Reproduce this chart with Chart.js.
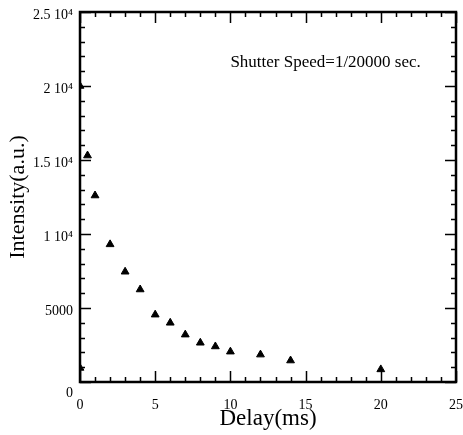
<!DOCTYPE html>
<html>
<head>
<meta charset="utf-8">
<script src="https://cdn.jsdelivr.net/npm/chart.js@4.4.1/dist/chart.umd.min.js"></script>
<style>
  html, body { margin: 0; padding: 0; background: #fff; }
  #c { display: block; }
</style>
</head>
<body>
<canvas id="c" width="463" height="435"></canvas>
<script>
// Data
const delays = [0, 0, 0.5, 1, 2, 3, 4, 5, 6, 7, 8, 9, 10, 12, 14, 20];
const intensities = [950, 20000, 15300, 12600, 9300, 7450, 6250, 4550, 4000, 3200, 2650, 2400, 2050, 1850, 1450, 850];
const yTickValues = [0, 5000, 10000, 15000, 20000, 25000];
const yTickLabels = ['0', '5000', '1 10\u2074', '1.5 10\u2074', '2 10\u2074', '2.5 10\u2074'];
const xTickValues = [0, 5, 10, 15, 20, 25];
const xTickLabels = ['0', '5', '10', '15', '20', '25'];
const annotationText = 'Shutter Speed=1/20000 sec.';

const serif = '"Liberation Serif", "DejaVu Serif", serif';

const framePlugin = {
  id: 'frame',
  afterDraw(chart) {
    const ctx = chart.ctx;
    const a = chart.chartArea;
    const xs = chart.scales.x, ys = chart.scales.y;
    ctx.save();
    ctx.strokeStyle = '#000';
    ctx.lineWidth = 1.5;
    ctx.beginPath();
    xs.ticks.forEach(t => {
      const px = Math.round(xs.getPixelForValue(t.value)) + 0.5;
      const len = (t.value % 5 === 0) ? 11 : 5;
      ctx.moveTo(px, a.bottom); ctx.lineTo(px, a.bottom - len);
      ctx.moveTo(px, a.top); ctx.lineTo(px, a.top + len);
    });
    ys.ticks.forEach(t => {
      const py = Math.round(ys.getPixelForValue(t.value)) + 0.5;
      const len = (t.value % 5000 === 0) ? 11 : 5;
      ctx.moveTo(a.left, py); ctx.lineTo(a.left + len, py);
      ctx.moveTo(a.right, py); ctx.lineTo(a.right - len, py);
    });
    ctx.stroke();
    ctx.lineWidth = 2.5;
    ctx.strokeRect(a.left, a.top, a.right - a.left, a.bottom - a.top);
    // annotation
    ctx.fillStyle = '#000';
    ctx.font = '17px ' + serif;
    ctx.textAlign = 'left';
    ctx.textBaseline = 'middle';
    ctx.fillText(annotationText, xs.getPixelForValue(10.0), ys.getPixelForValue(21600));
    ctx.restore();
  }
};

new Chart(document.getElementById('c'), {
  type: 'scatter',
  data: {
    datasets: [{
      data: delays.map((d, i) => ({ x: d, y: intensities[i] })),
      pointStyle: 'triangle',
      pointRadius: 4.5,
      backgroundColor: '#000',
      borderColor: '#000',
      borderWidth: 1
    }]
  },
  options: {
    responsive: false,
    animation: false,
    devicePixelRatio: 1,
    layout: { padding: { top: 12, right: 7, left: 0, bottom: 0 } },
    plugins: { legend: { display: false }, tooltip: { enabled: false } },
    scales: {
      x: {
        type: 'linear',
        min: 0, max: 25,
        afterFit(s) { s.height = 53; s.paddingLeft = 0; s.paddingRight = 0; },
        grid: { display: true, drawOnChartArea: false, drawTicks: false },
        border: { display: false },
        ticks: {
          stepSize: 1,
          autoSkip: false,
          maxRotation: 0,
          padding: 15,
          color: '#000',
          font: { family: serif, size: 14 },
          callback(v) { const i = xTickValues.indexOf(v); return i >= 0 ? xTickLabels[i] : ''; }
        },
        title: {
          display: true,
          text: 'Delay(ms)',
          color: '#000',
          font: { family: serif, size: 23 },
          padding: { top: 0, bottom: 2 }
        }
      },
      y: {
        type: 'linear',
        min: 0, max: 25000,
        afterFit(s) { s.width = 80; s.paddingTop = 0; s.paddingBottom = 0; },
        grid: { display: true, drawOnChartArea: false, drawTicks: false },
        border: { display: false },
        ticks: {
          stepSize: 1000,
          autoSkip: false,
          padding: 7,
          labelOffset: 3,
          color: '#000',
          font: { family: serif, size: 14 },
          callback(v) {
            const i = yTickValues.indexOf(v);
            if (i < 0) return '';
            return v === 0 ? ['', yTickLabels[i]] : yTickLabels[i];
          }
        },
        title: {
          display: true,
          text: 'Intensity(a.u.)',
          color: '#000',
          font: { family: serif, size: 22 },
          padding: { top: 5, bottom: 0 }
        }
      }
    }
  },
  plugins: [framePlugin]
});
</script>
</body>
</html>
